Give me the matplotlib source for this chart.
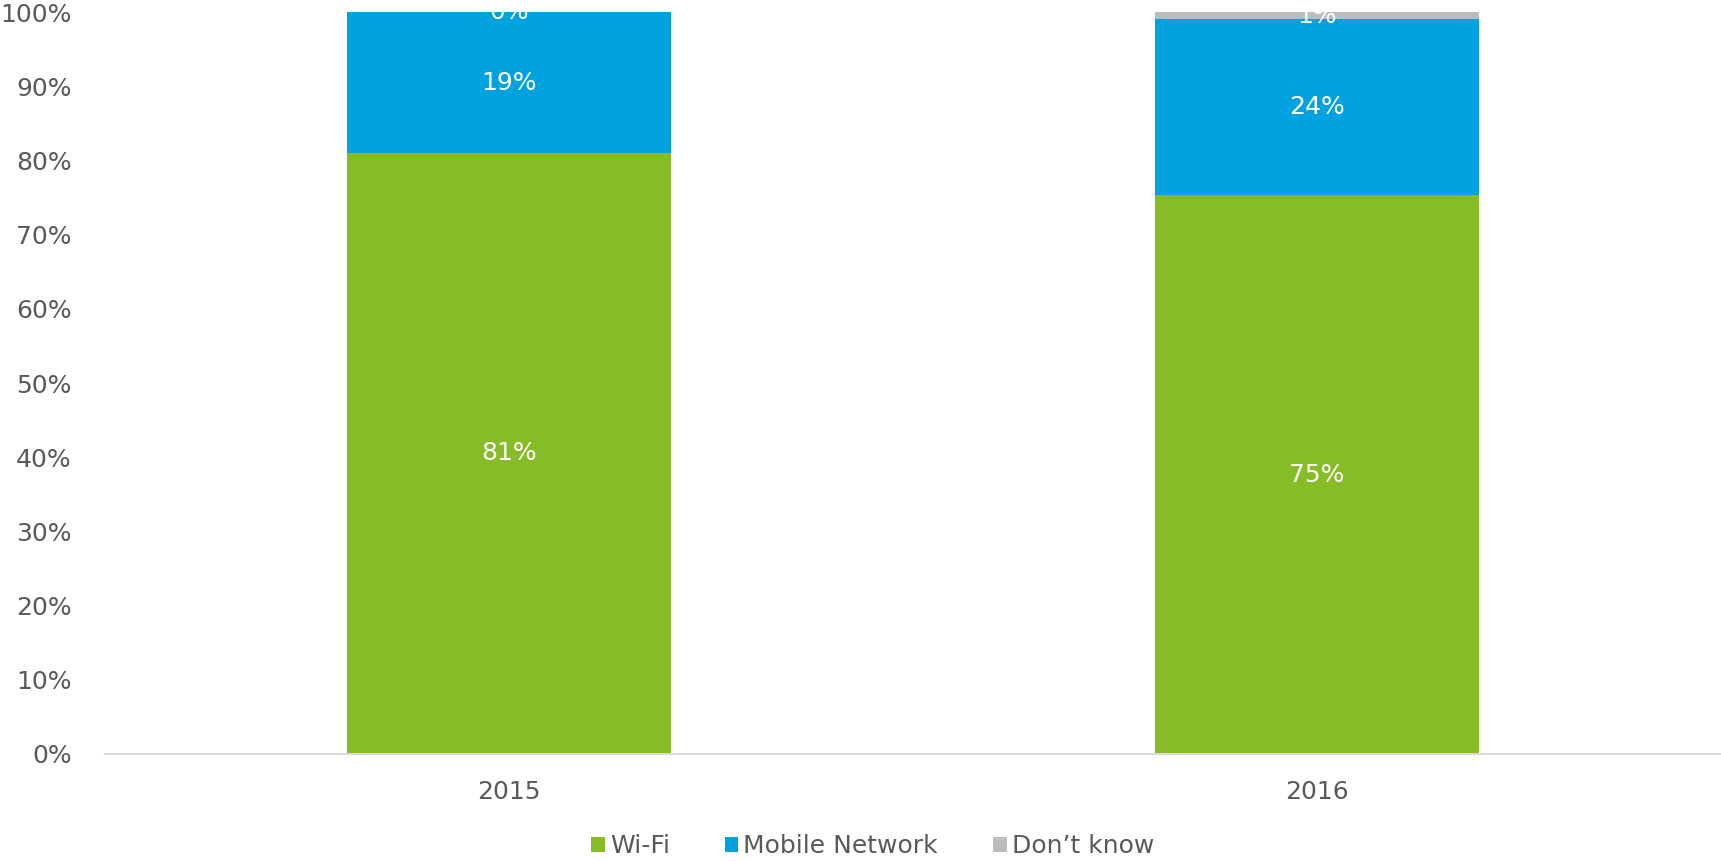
import matplotlib
matplotlib.use("Agg")
import matplotlib.pyplot as plt
import numpy as np

categories = ["2015", "2016"]
series_names = ["Wi-Fi", "Mobile Network", "Don\u2019t know"]
wifi = [81, 75.3]
mobile = [19, 23.7]
dont_know = [0, 1.0]
colors = ["#86BC25", "#00A3E0", "#BBBCBC"]
yticks = list(range(0, 101, 10))

plt.rcParams['font.family'] = ['DejaVu Sans']
text_color = "#595959"
fs = 18

fig = plt.figure(figsize=(17.21, 8.61), dpi=100)
ax = fig.add_axes([0.061, 0.1243, 0.939, 0.8617])

x = np.arange(len(categories))
width = 0.40
bottom = np.zeros(len(categories))
for vals, name, col in zip([wifi, mobile, dont_know], series_names, colors):
    vals = np.array(vals, dtype=float)
    ax.bar(x, vals, width, bottom=bottom, color=col, label=name, zorder=2)
    for xi, v, b in zip(x, vals, bottom):
        ax.text(xi, b + v / 2, f"{v:.0f}%", ha="center", va="center",
                color="white", fontsize=fs, zorder=3)
    bottom += vals

ax.set_xlim(-0.5, 1.5)
ax.set_ylim(0, 100)
ax.set_yticks(yticks)
ax.set_yticklabels([f"{t}%" for t in yticks])
ax.set_xticks(x)
ax.set_xticklabels(categories)
ax.tick_params(axis="both", length=0, labelsize=fs, colors=text_color)
ax.tick_params(axis="y", pad=24)
ax.tick_params(axis="x", pad=19)
for s in ["top", "right", "left"]:
    ax.spines[s].set_visible(False)
ax.spines["bottom"].set_color("#D9D9D9")
ax.spines["bottom"].set_linewidth(1.5)

leg = fig.legend(loc="center", bbox_to_anchor=(0.507, 0.017), ncol=3, frameon=False,
                 fontsize=fs, handlelength=0.55, handleheight=0.55, handletextpad=0.2,
                 columnspacing=2.2, labelcolor=text_color)

fig.savefig("out.png", dpi=100)
